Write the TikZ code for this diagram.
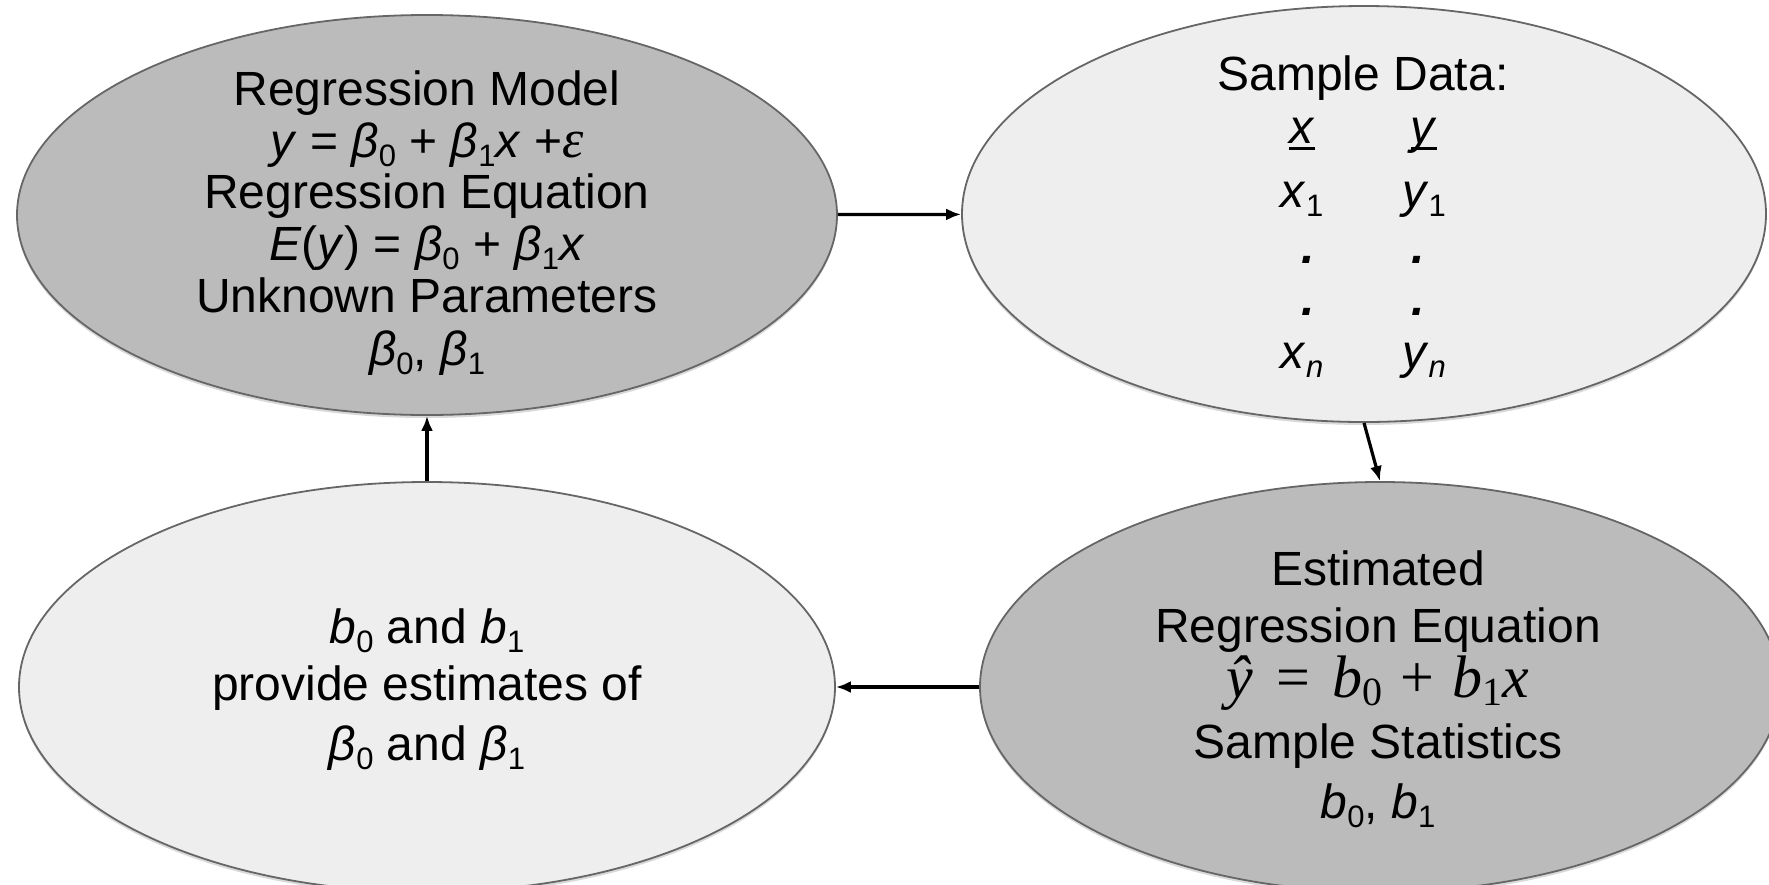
\documentclass[tikz,border=0pt]{standalone}
\usepackage{fontspec}
\setmainfont{Liberation Sans}
\newfontfamily\serifmath{Liberation Serif}
\usetikzlibrary{shapes.geometric,arrows.meta,shadows}
\definecolor{darkfill}{HTML}{BBBBBB}
\definecolor{lightfill}{HTML}{EEEEEE}
\definecolor{rim}{HTML}{666666}
% lowered small index, set as text
\newcommand{\sbs}[1]{\raisebox{-0.2em}{\fontsize{31}{31}\selectfont #1}}
% italic Greek beta with an upright index
\newcommand{\bet}[1]{\textit{β}\sbs{#1}}
% underlined column heading
\newcommand{\colhead}[1]{\leavevmode\setbox0\hbox{#1}\rlap{\rule[-7pt]{\wd0}{2.6pt}}\box0}
\begin{document}
\begin{tikzpicture}[x=1pt,y=-1pt,
  blob/.style={ellipse, draw=rim, line width=1.8pt, inner sep=0pt,
    drop shadow={shadow xshift=0pt, shadow yshift=-3pt, opacity=0.3}},
  darkblob/.style={blob, fill=darkfill},
  lightblob/.style={blob, fill=lightfill},
  txt/.style={inner sep=0pt, anchor=base, font=\fontsize{48}{52}\selectfont},
  flow/.style={-{Latex[length=15pt,width=12pt]}, line width=3.2pt, black}]
\clip (0,0) rectangle (1769,884);

% the four stages of the cycle
\node[darkblob, minimum width=820pt, minimum height=400pt] (tl) at (427,215) {};
\node[lightblob, minimum width=804pt, minimum height=416pt] (tr) at (1364,214) {};
\node[darkblob, minimum width=800pt, minimum height=410pt] (br) at (1380,687) {};
\node[lightblob, minimum width=816pt, minimum height=410pt] (bl) at (427,687) {};

% population model
\node[txt] (tl1) at (427,105) {Regression Model};
\node[txt] (tl2) at (427,157) {\textit{y} = \bet{0} + \bet{1}\textit{x} +{\serifmath\itshape\fontsize{54}{54}\selectfont ε}};
\node[txt] (tl3) at (427,208) {Regression Equation};
\node[txt] (tl4) at (427,260) {\textit{E}(\textit{y}) = \bet{0} + \bet{1}\textit{x}};
\node[txt] (tl5) at (427,312) {Unknown Parameters};
\node[txt] (tl6) at (427,365) {\bet{0}, \bet{1}};

% sample data table
\node[txt] (tr1) at (1363,90) {Sample Data:};
\node[txt] (trx0) at (1302,143) {\colhead{\textit{x}}};
\node[txt] (try0) at (1424,143) {\colhead{\textit{y}}};
\node[txt] (trx1) at (1302,207) {\textit{x}\sbs{1}};
\node[txt] (try1) at (1424,207) {\textit{y}\sbs{1}};
\node[txt] (trxd1) at (1308,263) {\textbf{\textit{.}}};
\node[txt] (tryd1) at (1418,263) {\textbf{\textit{.}}};
\node[txt] (trxd2) at (1308,315) {\textbf{\textit{.}}};
\node[txt] (tryd2) at (1418,315) {\textbf{\textit{.}}};
\node[txt] (trxn) at (1302,368) {\textit{x}\sbs{\textit{n}}};
\node[txt] (tryn) at (1424,368) {\textit{y}\sbs{\textit{n}}};

% estimated equation
\node[txt] (br1) at (1378,585) {Estimated};
\node[txt] (br2) at (1378,642) {Regression Equation};
\node[txt] (br3) at (1378,697) {\serifmath\fontsize{60}{60}\selectfont
  \textit{ŷ}\hspace{0.38em}=\hspace{0.38em}\textit{b}{\fontsize{40}{40}\selectfont\raisebox{-0.2em}{0}}\hspace{0.3em}+\hspace{0.3em}\textit{b}{\fontsize{40}{40}\selectfont\raisebox{-0.2em}{1}}\textit{x}};
\node[txt] (br4) at (1378,758) {Sample Statistics};
\node[txt] (br5) at (1378,818) {\textit{b}\sbs{0}, \textit{b}\sbs{1}};

% estimates
\node[txt] (bl1) at (427,643) {\textit{b}\sbs{0} and \textit{b}\sbs{1}};
\node[txt] (bl2) at (427,700) {provide estimates of};
\node[txt] (bl3) at (427,760) {\bet{0} and \bet{1}};

% connectors
\draw[flow] (tl) -- (tr);
\draw[flow] (tr.south) -- (br.north);
\draw[flow] (br.west) -- (bl.east);
\draw[flow] (bl.north) -- (tl.south);
\end{tikzpicture}
\end{document}
